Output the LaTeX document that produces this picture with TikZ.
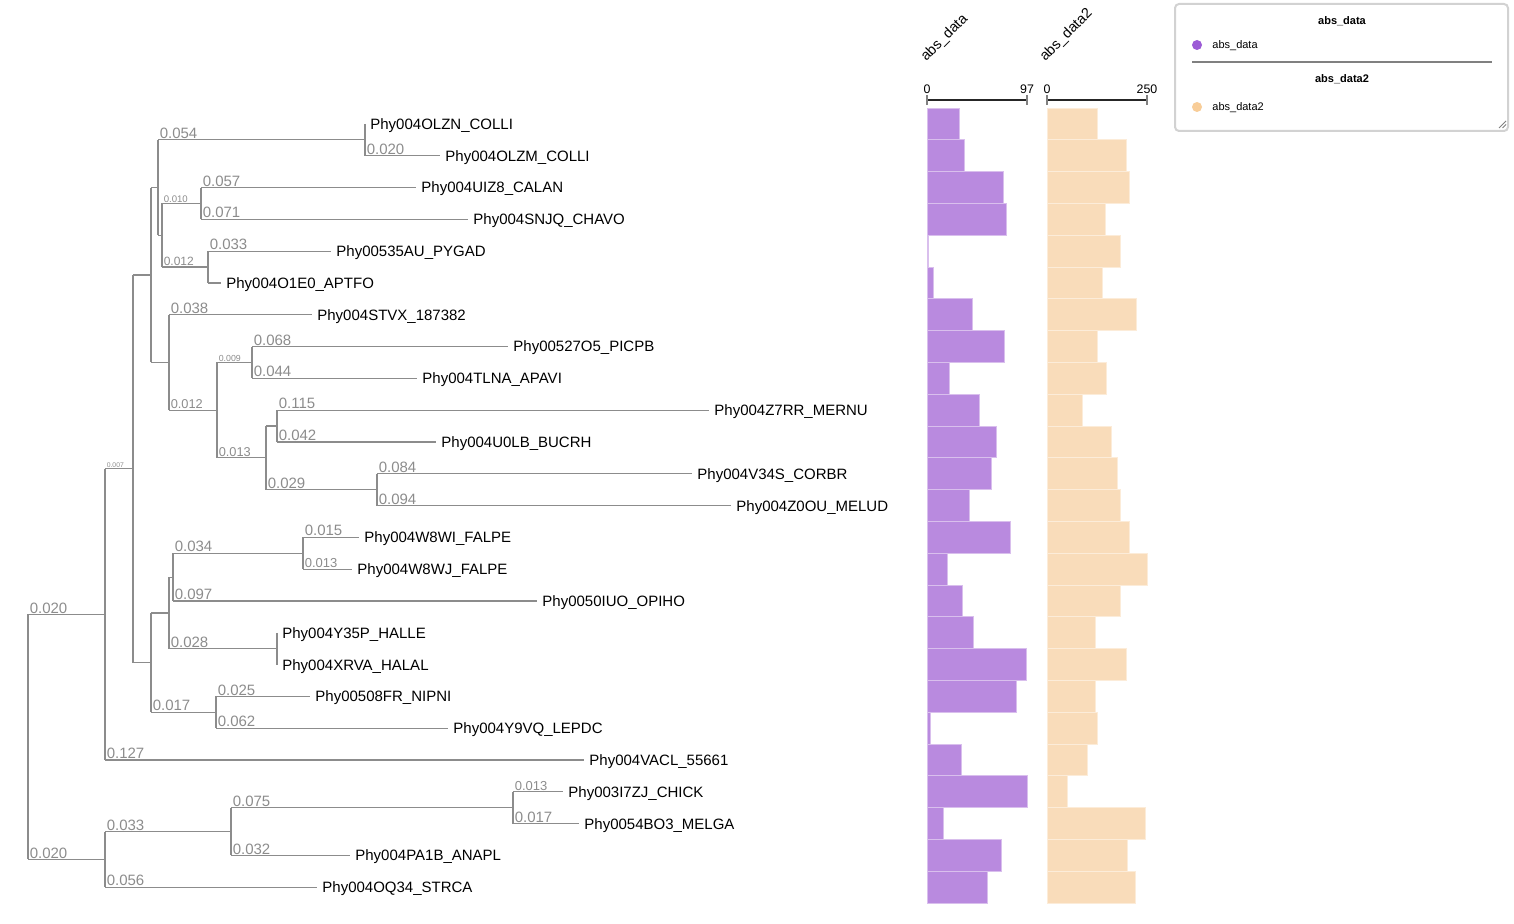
\documentclass[tikz,border=0pt]{standalone}
\usepackage{fontspec}
\setmainfont{Liberation Sans}
\usetikzlibrary{calc}

\definecolor{branchgray}{HTML}{8C8C8C}
\definecolor{barpurple}{HTML}{B98ADF}
\definecolor{barorange}{HTML}{F9DCBA}
\definecolor{dotpurple}{HTML}{9C5BD6}
\definecolor{dotorange}{HTML}{F8CD98}

\begin{document}
\begin{tikzpicture}[x=0.5pt,y=-0.5pt,
  branch/.style={draw=branchgray,line width=0.6pt},
  leaf/.style={anchor=base west,inner sep=0pt,xshift=2.5pt,yshift=-2.7pt,font=\fontsize{7.5}{9}\selectfont},
  blen/.style={anchor=base west,inner sep=0pt,xshift=0.6pt,yshift=0.7pt,text=branchgray,font=\fontsize{#1}{#1}\selectfont},
  blen/.default=7.5,
  legtext/.style={anchor=west,inner sep=0pt,font=\fontsize{5.5}{6}\selectfont},
  legtitle/.style={inner sep=0pt,font=\fontsize{5.5}{6}\selectfont\bfseries}]
\useasboundingbox (0,0) rectangle (1514,924);

% leaves
\foreach \x/\name [count=\i from 0] in {365/Phy004OLZN\_COLLI, 440/Phy004OLZM\_COLLI,
  416/Phy004UIZ8\_CALAN, 468/Phy004SNJQ\_CHAVO, 331/Phy00535AU\_PYGAD,
  221/Phy004O1E0\_APTFO, 312/Phy004STVX\_187382, 508/Phy00527O5\_PICPB,
  417/Phy004TLNA\_APAVI, 709/Phy004Z7RR\_MERNU, 436/Phy004U0LB\_BUCRH,
  692/Phy004V34S\_CORBR, 731/Phy004Z0OU\_MELUD, 359/Phy004W8WI\_FALPE,
  352/Phy004W8WJ\_FALPE, 537/Phy0050IUO\_OPIHO, 277/Phy004Y35P\_HALLE,
  277/Phy004XRVA\_HALAL, 310/Phy00508FR\_NIPNI, 448/Phy004Y9VQ\_LEPDC,
  584/Phy004VACL\_55661, 563/Phy003I7ZJ\_CHICK, 579/Phy0054BO3\_MELGA,
  350/Phy004PA1B\_ANAPL, 317/Phy004OQ34\_STRCA}
  {
  \coordinate (t\i) at (\x,{124+31.8*\i});
  \node[leaf] (l\i) at (t\i) {\name};
  }

% inner nodes
\coordinate (root) at (28,736.9);
\coordinate (nU) at (105,614.4);
\coordinate (nA) at (133,468.8);
\coordinate (nB) at (151,275);
\coordinate (nD) at (158,187.6);
\coordinate (nF) at (365,139.9);
\coordinate (nG) at (162,235.3);
\coordinate (nH) at (201,203.5);
\coordinate (nI) at (208,267.1);
\coordinate (nE) at (169,362.5);
\coordinate (nJ) at (217,410.2);
\coordinate (nK) at (252,362.5);
\coordinate (nL) at (266,457.9);
\coordinate (nM) at (277,426.1);
\coordinate (nN) at (377,489.7);
\coordinate (nC) at (151,662.6);
\coordinate (nO) at (169,613);
\coordinate (nP) at (173,577.2);
\coordinate (nR) at (303,553.3);
\coordinate (nQ) at (277,648.7);
\coordinate (nS) at (216,712.3);
\coordinate (nT) at (105,859.4);
\coordinate (nW) at (231,831.5);
\coordinate (nV) at (513,807.7);

% verticals
\draw[branch] (root |- nU) -- (root |- nT);
\draw[branch] (nU |- nA) -- (nU |- t20);
\draw[branch] (nA |- nB) -- (nA |- nC);
\draw[branch] (nB |- nD) -- (nB |- nE);
\draw[branch] (nD |- nF) -- (nD |- nG);
\draw[branch] (nF |- t0) -- (nF |- t1);
\draw[branch] (nG |- nH) -- (nG |- nI);
\draw[branch] (nH |- t2) -- (nH |- t3);
\draw[branch] (nI |- t4) -- (nI |- t5);
\draw[branch] (nE |- t6) -- (nE |- nJ);
\draw[branch] (nJ |- nK) -- (nJ |- nL);
\draw[branch] (nK |- t7) -- (nK |- t8);
\draw[branch] (nL |- nM) -- (nL |- nN);
\draw[branch] (nM |- t9) -- (nM |- t10);
\draw[branch] (nN |- t11) -- (nN |- t12);
\draw[branch] (nC |- nO) -- (nC |- nS);
\draw[branch] (nO |- nP) -- (nO |- nQ);
\draw[branch] (nP |- nR) -- (nP |- t15);
\draw[branch] (nR |- t13) -- (nR |- t14);
\draw[branch] (nQ |- t16) -- (nQ |- t17);
\draw[branch] (nS |- t18) -- (nS |- t19);
\draw[branch] (nT |- nW) -- (nT |- t24);
\draw[branch] (nW |- nV) -- (nW |- t23);
\draw[branch] (nV |- t21) -- (nV |- t22);

% horizontals
\draw[branch] (root |- nU) -- (nU) node[blen,pos=0] {0.020};
\draw[branch] (root |- nT) -- (nT) node[blen,pos=0] {0.020};
\draw[branch] (nU |- nA) -- (nA) node[blen=3.4,pos=0] {0.007};
\draw[branch] (nU |- t20) -- (t20) node[blen,pos=0] {0.127};
\draw[branch] (nA |- nB) -- (nB);
\draw[branch] (nA |- nC) -- (nC);
\draw[branch] (nB |- nD) -- (nD);
\draw[branch] (nB |- nE) -- (nE);
\draw[branch] (nD |- nF) -- (nF) node[blen,pos=0] {0.054};
\draw[branch] (nD |- nG) -- (nG);
\draw[branch] (nF |- t1) -- (t1) node[blen,pos=0] {0.020};
\draw[branch] (nG |- nH) -- (nH) node[blen=4.8,pos=0] {0.010};
\draw[branch] (nG |- nI) -- (nI) node[blen=6,pos=0] {0.012};
\draw[branch] (nH |- t2) -- (t2) node[blen,pos=0] {0.057};
\draw[branch] (nH |- t3) -- (t3) node[blen,pos=0] {0.071};
\draw[branch] (nI |- t4) -- (t4) node[blen,pos=0] {0.033};
\draw[branch] (nI |- t5) -- (t5);
\draw[branch] (nE |- t6) -- (t6) node[blen,pos=0] {0.038};
\draw[branch] (nE |- nJ) -- (nJ) node[blen=6.4,pos=0] {0.012};
\draw[branch] (nJ |- nK) -- (nK) node[blen=4.4,pos=0] {0.009};
\draw[branch] (nJ |- nL) -- (nL) node[blen=6.4,pos=0] {0.013};
\draw[branch] (nK |- t7) -- (t7) node[blen,pos=0] {0.068};
\draw[branch] (nK |- t8) -- (t8) node[blen,pos=0] {0.044};
\draw[branch] (nL |- nM) -- (nM);
\draw[branch] (nL |- nN) -- (nN) node[blen,pos=0] {0.029};
\draw[branch] (nM |- t9) -- (t9) node[blen,pos=0] {0.115};
\draw[branch] (nM |- t10) -- (t10) node[blen,pos=0] {0.042};
\draw[branch] (nN |- t11) -- (t11) node[blen,pos=0] {0.084};
\draw[branch] (nN |- t12) -- (t12) node[blen,pos=0] {0.094};
\draw[branch] (nC |- nO) -- (nO);
\draw[branch] (nC |- nS) -- (nS) node[blen,pos=0] {0.017};
\draw[branch] (nO |- nP) -- (nP);
\draw[branch] (nO |- nQ) -- (nQ) node[blen,pos=0] {0.028};
\draw[branch] (nP |- nR) -- (nR) node[blen,pos=0] {0.034};
\draw[branch] (nP |- t15) -- (t15) node[blen,pos=0] {0.097};
\draw[branch] (nR |- t13) -- (t13) node[blen,pos=0] {0.015};
\draw[branch] (nR |- t14) -- (t14) node[blen=6.5,pos=0] {0.013};
\draw[branch] (nS |- t18) -- (t18) node[blen,pos=0] {0.025};
\draw[branch] (nS |- t19) -- (t19) node[blen,pos=0] {0.062};
\draw[branch] (nT |- nW) -- (nW) node[blen,pos=0] {0.033};
\draw[branch] (nT |- t24) -- (t24) node[blen,pos=0] {0.056};
\draw[branch] (nW |- nV) -- (nV) node[blen,pos=0] {0.075};
\draw[branch] (nW |- t23) -- (t23) node[blen,pos=0] {0.032};
\draw[branch] (nV |- t21) -- (t21) node[blen=6.5,pos=0] {0.013};
\draw[branch] (nV |- t22) -- (t22) node[blen,pos=0] {0.017};

% bar columns
\foreach \v [count=\i from 0] in {31,36,74,77,1,6,44,75,22,51,67,62,41,81,20,34,45,96,87,3,33,97,16,72,59}
  {
  \fill[barpurple,draw=barpurple!55!white,line width=0.4pt]
    (927,{108+31.8*\i}) rectangle ({927+\v*100/97},{139.8+31.8*\i});
  }
\foreach \v [count=\i from 0] in {127,199,207,145,183,138,224,127,148,89,161,177,183,206,250,183,122,198,122,125,101,50,245,200,221}
  {
  \fill[barorange,draw=barorange!55!white,line width=0.4pt]
    (1047,{108+31.8*\i}) rectangle ({1047+\v*0.4},{139.8+31.8*\i});
  }

% axes and headers
\draw[line width=0.8pt,black!85] (927,100) -- (1027,100);
\draw[line width=0.8pt,black!85] (1047,100) -- (1147,100);
\foreach \x in {927,1027,1047,1147}
  \draw[line width=0.9pt,gray] (\x,95) -- (\x,105);
\node[font=\fontsize{6.2}{7}\selectfont,inner sep=0pt] (ax0) at (927,89) {0};
\node[font=\fontsize{6.2}{7}\selectfont,inner sep=0pt] (ax1) at (1027,89) {97};
\node[font=\fontsize{6.2}{7}\selectfont,inner sep=0pt] (ax2) at (1047,89) {0};
\node[font=\fontsize{6.2}{7}\selectfont,inner sep=0pt] (ax3) at (1147,89) {250};
\node[rotate=45,anchor=base west,inner sep=0pt,font=\fontsize{7.2}{8}\selectfont] (hd1) at (926,62) {abs\_data};
\node[rotate=45,anchor=base west,inner sep=0pt,font=\fontsize{7.2}{8}\selectfont] (hd2) at (1045,62) {abs\_data2};

% legend
\draw[gray!35,line width=1pt,rounded corners=2pt,fill=white] (1175,4) rectangle (1508,131);
\node[legtitle] (lg1) at (1342,21) {abs\_data};
\fill[dotpurple] (1197,45) circle (2.5pt);
\node[legtext] (lg2) at (1212,46) {abs\_data};
\draw[gray,line width=0.6pt] (1192,62) -- (1492,62);
\node[legtitle] (lg3) at (1342,79) {abs\_data2};
\fill[dotorange] (1197,107) circle (2.5pt);
\node[legtext] (lg4) at (1212,108) {abs\_data2};
\draw[gray,line width=0.4pt] (1499,128) -- (1506,121);
\draw[gray,line width=0.4pt] (1502.5,128) -- (1506,124.5);
\end{tikzpicture}
\end{document}
